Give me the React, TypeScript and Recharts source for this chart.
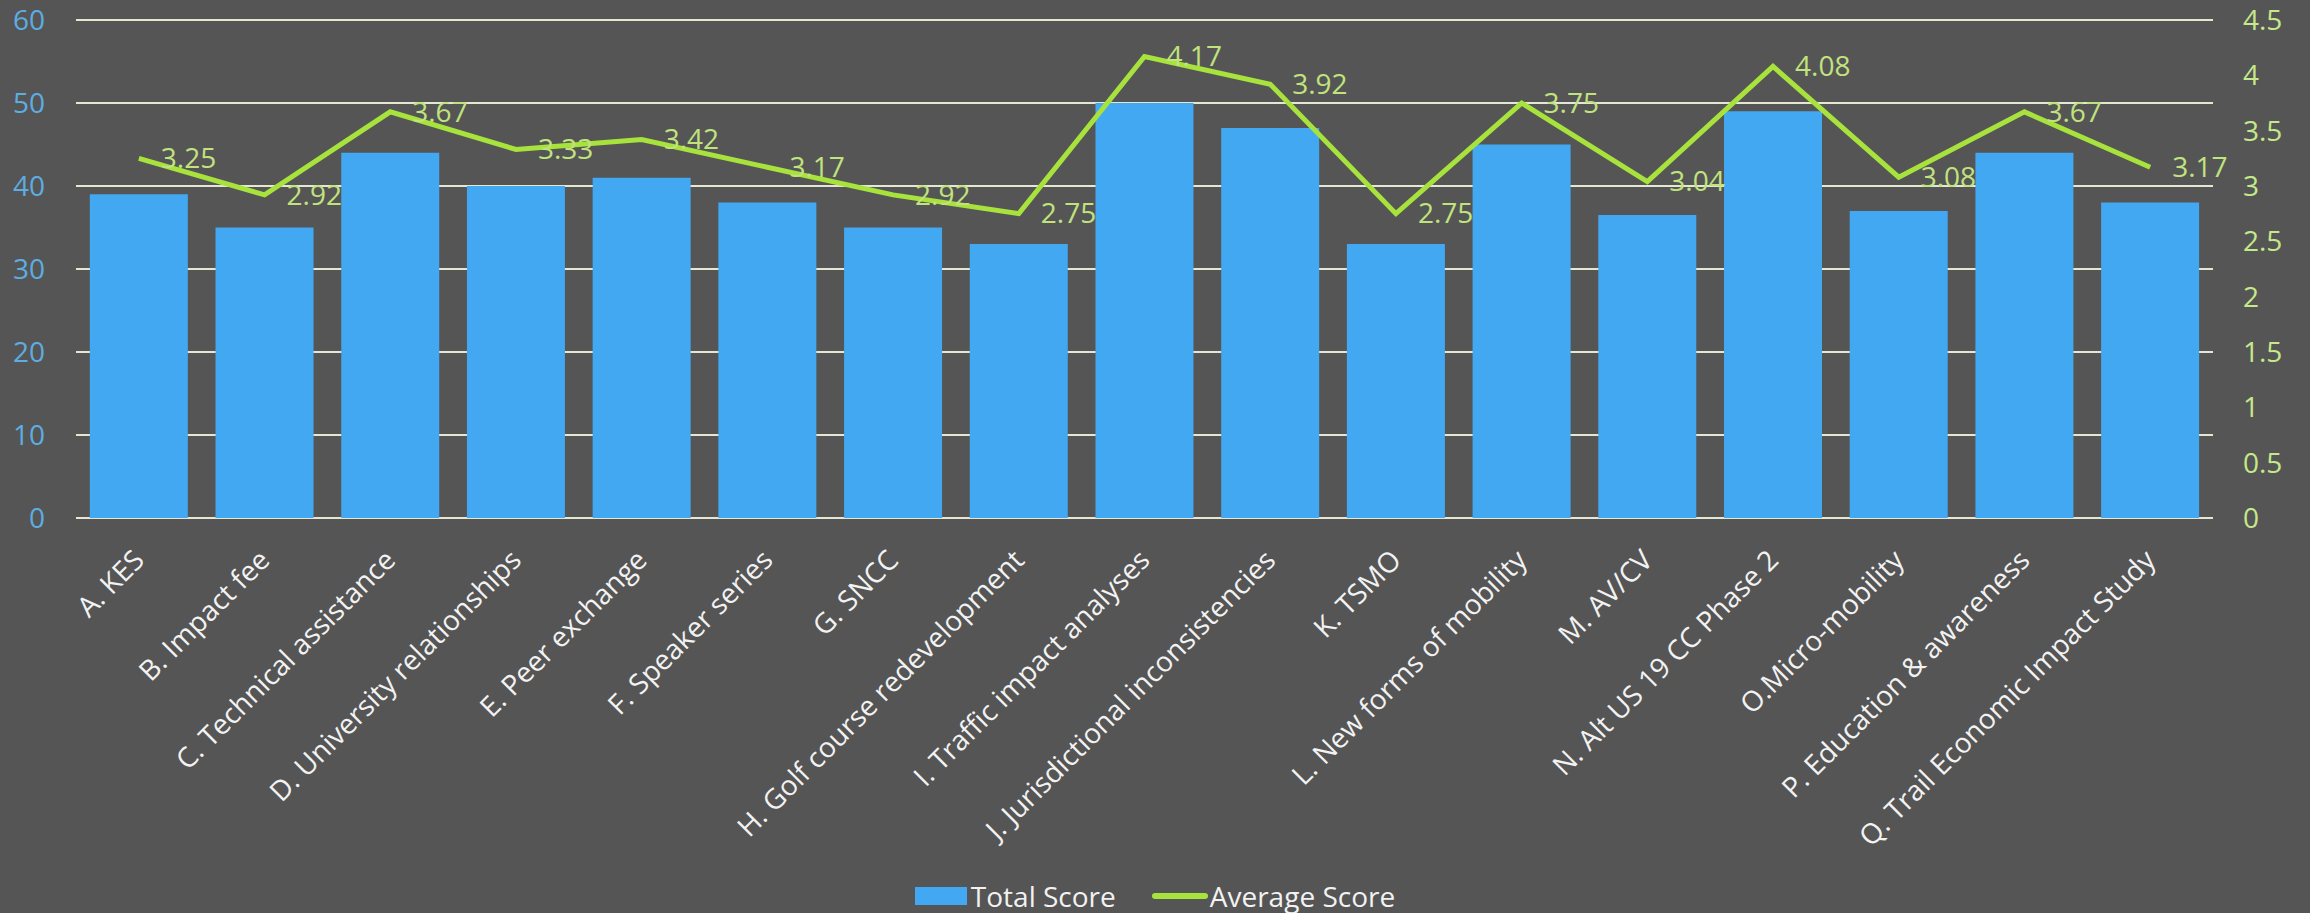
import React from 'react';
import { ComposedChart, Bar, Line, XAxis, YAxis, CartesianGrid, Legend, LabelList } from 'recharts';

const categories = [
    'A. KES',
    'B. Impact fee',
    'C. Technical assistance',
    'D. University relationships',
    'E. Peer exchange',
    'F. Speaker series',
    'G. SNCC',
    'H. Golf course redevelopment',
    'I. Traffic impact analyses',
    'J. Jurisdictional inconsistencies',
    'K. TSMO',
    'L. New forms of mobility',
    'M. AV/CV',
    'N. Alt US 19 CC Phase 2',
    'O.Micro-mobility',
    'P. Education & awareness',
    'Q. Trail Economic Impact Study',
];

const totalScore = [39, 35, 44, 40, 41, 38, 35, 33, 50, 47, 33, 45, 36.5, 49, 37, 44, 38];
const averageScore = [3.25, 2.92, 3.67, 3.33, 3.42, 3.17, 2.92, 2.75, 4.17, 3.92, 2.75, 3.75, 3.04, 4.08, 3.08, 3.67, 3.17];

const leftTicks = [0, 10, 20, 30, 40, 50, 60];
const rightTicks = [0, 0.5, 1, 1.5, 2, 2.5, 3, 3.5, 4, 4.5];

const data = categories.map((name, i) => ({
    name,
    total: totalScore[i],
    average: averageScore[i],
}));

const FONT = '"Open Sans", "Noto Sans", sans-serif';
const BAR_COLOR = '#42A8F2';
const LINE_COLOR = '#A8E23C';

function CategoryTick(props: any) {
    const { x, y, payload } = props;
    const tx = x;
    const ty = y + 37;
    return (
        <g transform={`translate(${tx}, ${ty})`}>
            <text
                x={0}
                y={0}
                dy="0.35em"
                textAnchor="end"
                transform="rotate(-45)"
                fill="#F2F2F2"
                fontSize={28}
                fontFamily={FONT}
            >
                {payload.value}
            </text>
        </g>
    );
}

function AverageLabel(props: any) {
    const { x, y, value } = props;
    return (
        <text x={x + 22} y={y} dy="0.35em" fill="#C0E37E" fontSize={28} fontFamily={FONT}>
            {Number(value).toFixed(2)}
        </text>
    );
}

function ChartLegend() {
    return (
        <div style={{ height: 60, display: 'flex', justifyContent: 'center', alignItems: 'flex-end', fontFamily: FONT, fontSize: 28, color: '#F2F2F2' }}>
            <div style={{ display: 'flex', alignItems: 'center', height: 34, marginRight: 36 }}>
                <div style={{ width: 52, height: 18, background: BAR_COLOR, marginRight: 4 }} />
                <span>Total Score</span>
            </div>
            <div style={{ display: 'flex', alignItems: 'center', height: 34 }}>
                <div style={{ width: 56, height: 6, borderRadius: 3, background: LINE_COLOR, marginRight: 2 }} />
                <span>Average Score</span>
            </div>
        </div>
    );
}

export default function App() {
    return (
        <div style={{ position: 'absolute', left: 0, top: 0, width: 2310, height: 913, background: '#555555' }}>
            <ComposedChart
                width={2310}
                height={913}
                data={data}
                margin={{ top: 20, right: 0, bottom: 0, left: 0 }}
                barCategoryGap="11%"
            >
                <CartesianGrid vertical={false} stroke="#E4E8D2" strokeWidth={2} yAxisId="left" />
                <XAxis
                    dataKey="name"
                    interval={0}
                    height={335}
                    tickSize={0}
                    tickMargin={0}
                    axisLine={false}
                    tickLine={false}
                    tick={<CategoryTick />}
                />
                <YAxis
                    yAxisId="left"
                    domain={[0, 60]}
                    ticks={leftTicks}
                    width={76}
                    tickSize={0}
                    tickMargin={31}
                    axisLine={false}
                    tickLine={false}
                    tick={{ fill: '#5DADE2', fontSize: 28, fontFamily: FONT }}
                />
                <YAxis
                    yAxisId="right"
                    orientation="right"
                    domain={[0, 4.5]}
                    ticks={rightTicks}
                    width={97}
                    tickSize={0}
                    tickMargin={30}
                    axisLine={false}
                    tickLine={false}
                    tick={{ fill: '#C5E88A', fontSize: 28, fontFamily: FONT }}
                />
                <Legend verticalAlign="bottom" height={60} content={<ChartLegend />} />
                <Bar yAxisId="left" dataKey="total" name="Total Score" fill={BAR_COLOR} isAnimationActive={false} />
                <Line
                    yAxisId="right"
                    dataKey="average"
                    name="Average Score"
                    type="linear"
                    stroke={LINE_COLOR}
                    strokeWidth={5}
                    dot={false}
                    isAnimationActive={false}
                >
                    <LabelList dataKey="average" content={<AverageLabel />} />
                </Line>
            </ComposedChart>
        </div>
    );
}
